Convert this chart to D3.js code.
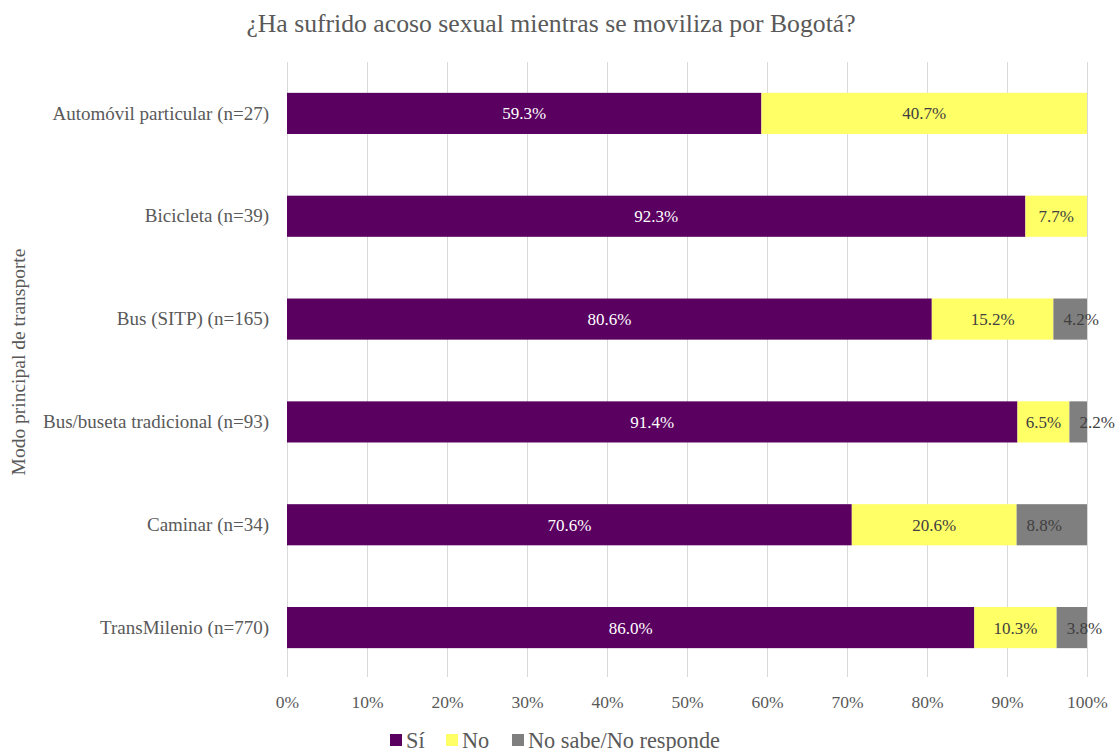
<!DOCTYPE html>
<html>
<head>
<meta charset="utf-8">
<script src="https://cdn.jsdelivr.net/npm/d3@7"></script>
<style>
  html, body { margin: 0; padding: 0; background: #fff; }
</style>
</head>
<body>
<svg id="chart" width="1118" height="751" font-family="'Liberation Serif', serif"></svg>
<script>
// Survey: harassment by main transport mode (Bogotá)
const categories = [
  "Automóvil particular (n=27)",
  "Bicicleta (n=39)",
  "Bus (SITP) (n=165)",
  "Bus/buseta tradicional (n=93)",
  "Caminar (n=34)",
  "TransMilenio (n=770)"
];
const seriesNames = ["Sí", "No", "No sabe/No responde"];
const siValues = [59.3, 92.3, 80.6, 91.4, 70.6, 86.0];
const noValues = [40.7, 7.7, 15.2, 6.5, 20.6, 10.3];
const nsValues = [0, 0, 4.2, 2.2, 8.8, 3.8];
const tickValues = [0, 0.1, 0.2, 0.3, 0.4, 0.5, 0.6, 0.7, 0.8, 0.9, 1.0];
const colors = ["#5a0061", "#ffff66", "#7f7f7f"];
const labelColors = ["#ffffff", "#404040", "#404040"];
// label placement per series: centred, or anchored near the segment start
const labelAtBase = [false, false, true];

const FONT = "'Liberation Serif', 'Times New Roman', serif";
const TEXT = "#595959";

const rows = categories.map((c, i) => ({
  cat: c, "Sí": siValues[i], "No": noValues[i], "No sabe/No responde": nsValues[i]
}));

const svg = d3.select("#chart");
const plotTop = 62, plotBottom = 677, bandBottom = 679;
const left = 287, right = 1087;

const x = d3.scaleLinear().domain([0, 1]).range([left, right]);
const y = d3.scaleBand().domain(categories).range([plotTop, bandBottom]).paddingInner(0.6).paddingOuter(0.3);

const stacked = d3.stack().keys(seriesNames).offset(d3.stackOffsetExpand)(rows);

function styleText(sel, size, color) {
  sel.attr("font-family", FONT).style("font-family", FONT)
     .style("font-size", size + "px").attr("fill", color).style("fill", color);
}

// title
svg.append("text")
  .attr("x", 551).attr("y", 32)
  .attr("text-anchor", "middle")
  .text("¿Ha sufrido acoso sexual mientras se moviliza por Bogotá?")
  .call(styleText, 25.7, TEXT);

// vertical gridlines
svg.append("g").selectAll("line").data(tickValues).join("line")
  .attr("x1", d => Math.round(x(d)) + 0.5).attr("x2", d => Math.round(x(d)) + 0.5)
  .attr("y1", plotTop).attr("y2", plotBottom)
  .attr("stroke", "#d9d9d9").attr("stroke-width", 1);

// x axis labels
const xAxis = d3.axisBottom(x).tickValues(tickValues).tickFormat(d3.format(".0%")).tickSize(0).tickPadding(19);
const gx = svg.append("g").attr("transform", `translate(0,${plotBottom})`).call(xAxis)
  .attr("font-family", FONT);
gx.select(".domain").remove();
gx.selectAll("text").call(styleText, 17.5, TEXT);

// y axis labels
const yAxis = d3.axisLeft(y).tickSize(0).tickPadding(18);
const gy = svg.append("g").attr("transform", `translate(${left},0)`).call(yAxis)
  .attr("font-family", FONT);
gy.select(".domain").remove();
gy.selectAll("text").call(styleText, 19, TEXT);

// y axis title
svg.append("text")
  .attr("transform", `translate(25,362) rotate(-90)`)
  .attr("text-anchor", "middle")
  .text("Modo principal de transporte")
  .call(styleText, 19.5, TEXT);

// bars
const layers = svg.append("g").selectAll("g").data(stacked).join("g")
  .attr("fill", (d, i) => colors[i]);
layers.selectAll("rect").data(d => d.filter(s => s[1] - s[0] > 0)).join("rect")
  .attr("x", d => x(d[0]))
  .attr("width", d => x(d[1]) - x(d[0]))
  .attr("y", d => y(d.data.cat))
  .attr("height", y.bandwidth());

// data labels
stacked.forEach((layer, i) => {
  svg.append("g").selectAll("text").data(layer.filter(s => s[1] - s[0] > 0)).join("text")
    .attr("x", d => labelAtBase[i] ? x(d[0]) + 10 : (x(d[0]) + x(d[1])) / 2)
    .attr("y", d => y(d.data.cat) + y.bandwidth() / 2)
    .attr("dy", "0.35em")
    .attr("text-anchor", labelAtBase[i] ? "start" : "middle")
    .text(d => d.data[layer.key].toFixed(1) + "%")
    .call(styleText, 17, labelColors[i]);
});

// legend
const legendX = [390, 446, 512];
const lg = svg.append("g").selectAll("g").data(seriesNames).join("g")
  .attr("transform", (d, i) => `translate(${legendX[i]},734)`);
lg.append("rect").attr("width", 12).attr("height", 12).attr("fill", (d, i) => colors[i]);
lg.append("text").attr("x", 16).attr("y", 13.5)
  .text(d => d)
  .call(styleText, 22.3, TEXT);
</script>
</body>
</html>
